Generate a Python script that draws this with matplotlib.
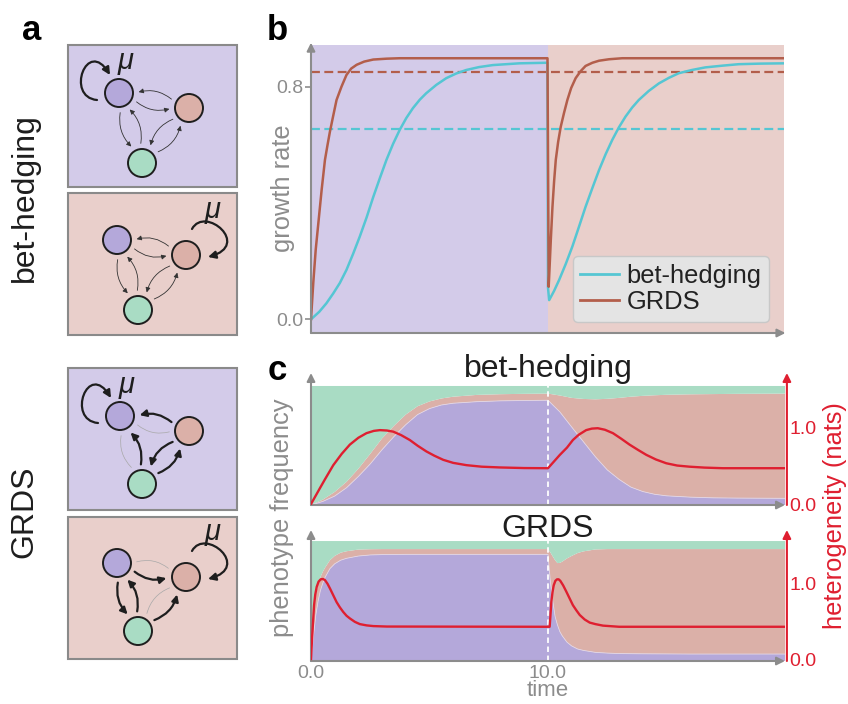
import matplotlib
matplotlib.use('Agg')
import matplotlib.pyplot as plt
import numpy as np
from matplotlib.patches import Rectangle, Circle, FancyArrowPatch
from matplotlib.path import Path

plt.rcParams['font.family'] = ['Liberation Sans', 'DejaVu Sans']

W, H = 848, 704

# colours
PURPLE_BG = '#d3cbe9'
PINK_BG = '#e9cfcb'
PURPLE = '#b4a8da'
PINK = '#dbb0a8'
GREEN = '#a9dcc4'
CYAN = '#55c6d3'
BROWN = '#b35e4b'
RED = '#df1f30'
GRAY = '#8c8c8c'
DARK = '#1e1e1e'

# ---- panel b: growth rate ----
bh_t = [0, 0.35, 0.65, 0.94, 1.22, 1.5, 1.78, 2.06, 2.35, 2.63, 2.91, 3.19, 3.47, 3.75, 4.03, 4.31,
        4.6, 4.87, 5.3, 5.72, 6.14, 6.56, 7.1, 7.69, 8.81, 10.0,
        10.02, 10.07, 10.28, 10.49, 10.77, 11.05, 11.33, 11.61, 11.9, 12.18, 12.46, 12.74, 13.02, 13.3,
        13.58, 13.86, 14.28, 14.71, 15.13, 15.55, 16.1, 16.67, 17.4, 18.08, 19.0, 20.0]
bh_growth = [0.0, 0.026, 0.055, 0.089, 0.125, 0.17, 0.225, 0.284, 0.35, 0.42, 0.485, 0.548, 0.603, 0.651,
             0.692, 0.726, 0.755, 0.777, 0.806, 0.829, 0.845, 0.857, 0.867, 0.874, 0.880, 0.882,
             0.11, 0.066, 0.098, 0.135, 0.19, 0.25, 0.318, 0.387, 0.452, 0.513, 0.568, 0.617, 0.66, 0.697,
             0.728, 0.754, 0.785, 0.811, 0.83, 0.846, 0.857, 0.866, 0.872, 0.877, 0.879, 0.880]
grds_t = [0, 0.1, 0.2, 0.31, 0.45, 0.59, 0.7, 0.8, 0.94, 1.08, 1.29, 1.5, 1.7, 1.93, 2.25, 2.63, 3.2, 3.75, 10.0,
          10.05, 10.1, 10.14, 10.21, 10.28, 10.35, 10.45, 10.56, 10.7, 10.84, 11.0, 11.19, 11.4, 11.61,
          11.9, 12.18, 12.6, 13.16, 20.0]
grds_growth = [0.0, 0.13, 0.24, 0.33, 0.445, 0.548, 0.60, 0.645, 0.70, 0.754, 0.80, 0.840, 0.862, 0.875,
               0.886, 0.893, 0.896, 0.8975, 0.8975,
               0.112, 0.2, 0.273, 0.387, 0.475, 0.548, 0.61, 0.662, 0.71, 0.754, 0.795, 0.829, 0.853, 0.871,
               0.882, 0.889, 0.894, 0.8975, 0.8975]
bh_mean = 0.655
grds_mean = 0.849

# ---- panel c: phenotype frequencies and heterogeneity ----
bh_time = [0, 0.5, 1, 1.5, 2, 2.5, 3, 3.5, 4, 4.5, 5, 5.5, 6, 7, 8, 9, 10,
           10.5, 11, 11.5, 12, 12.5, 13, 13.5, 14, 14.5, 15, 16, 17, 18, 19, 20]
bh_purple = [0, 0.03, 0.075, 0.145, 0.24, 0.345, 0.465, 0.575, 0.675, 0.76, 0.81, 0.84, 0.855, 0.868, 0.875, 0.878, 0.88,
             0.782, 0.655, 0.53, 0.405, 0.295, 0.215, 0.15, 0.113, 0.09, 0.077, 0.066, 0.06, 0.058, 0.057, 0.056]
bh_pink = [0, 0.015, 0.035, 0.05, 0.065, 0.085, 0.095, 0.09, 0.085, 0.07, 0.06, 0.055, 0.055, 0.057, 0.056, 0.056, 0.056,
           0.138, 0.245, 0.361, 0.483, 0.597, 0.685, 0.76, 0.804, 0.832, 0.849, 0.864, 0.872, 0.876, 0.878, 0.88]
bh_green = [1, 0.955, 0.89, 0.805, 0.695, 0.57, 0.44, 0.335, 0.24, 0.17, 0.13, 0.105, 0.09, 0.075, 0.069, 0.066, 0.064,
            0.08, 0.1, 0.109, 0.112, 0.108, 0.1, 0.09, 0.083, 0.078, 0.074, 0.07, 0.068, 0.066, 0.065, 0.064]
het_bh_t = [0, 0.2, 0.38, 0.6, 0.94, 1.3, 1.64, 2.0, 2.34, 2.65, 2.91, 3.2, 3.47, 3.8, 4.17, 4.5, 4.87,
            5.2, 5.58, 6.0, 6.56, 7.2, 7.97, 9.0, 10.0,
            10.5, 10.8, 11.05, 11.3, 11.61, 11.85, 12.1, 12.4, 12.74, 13.1, 13.44, 13.8, 14.15, 14.55,
            14.99, 15.45, 15.97, 16.6, 17.38, 20.0]
het_bh = [0, 0.11, 0.21, 0.33, 0.51, 0.66, 0.78, 0.87, 0.93, 0.96, 0.97, 0.965, 0.95, 0.905, 0.84, 0.765, 0.69,
          0.635, 0.58, 0.54, 0.51, 0.49, 0.48, 0.472, 0.47,
          0.645, 0.74, 0.84, 0.91, 0.97, 0.99, 0.995, 0.975, 0.93, 0.855, 0.78, 0.71, 0.645, 0.585,
          0.535, 0.505, 0.49, 0.478, 0.47, 0.47]

gr_time = [0, 0.1, 0.2, 0.3, 0.4, 0.5, 0.6, 0.8, 1.0, 1.25, 1.5, 2, 2.5, 3, 4, 6, 10,
           10.1, 10.2, 10.3, 10.4, 10.5, 10.6, 10.8, 11, 11.25, 11.5, 12, 12.5, 13, 14, 16, 20]
gr_purple = [0, 0.2, 0.38, 0.5, 0.59, 0.65, 0.70, 0.77, 0.81, 0.84, 0.856, 0.875, 0.884, 0.887, 0.889, 0.889, 0.889,
             0.66, 0.5, 0.37, 0.3, 0.245, 0.21, 0.157, 0.125, 0.1, 0.088, 0.072, 0.066, 0.062, 0.06, 0.058, 0.058]
gr_pink = [0, 0.13, 0.17, 0.14, 0.11, 0.095, 0.08, 0.07, 0.066, 0.063, 0.059, 0.054, 0.048, 0.046, 0.044, 0.044, 0.044,
           0.245, 0.372, 0.47, 0.516, 0.573, 0.618, 0.698, 0.751, 0.8, 0.826, 0.858, 0.867, 0.871, 0.873, 0.875, 0.875]
gr_green = [1, 0.67, 0.45, 0.36, 0.30, 0.255, 0.22, 0.16, 0.124, 0.097, 0.085, 0.071, 0.068, 0.067, 0.067, 0.067, 0.067,
            0.095, 0.128, 0.16, 0.184, 0.182, 0.172, 0.145, 0.124, 0.1, 0.086, 0.07, 0.067, 0.067, 0.067, 0.067, 0.067]
het_gr_t = [0, 0.05, 0.13, 0.18, 0.24, 0.32, 0.41, 0.5, 0.59, 0.7, 0.80, 0.94, 1.08, 1.22, 1.36, 1.5, 1.64,
            1.85, 2.06, 2.35, 2.63, 3.2, 10.0,
            10.07, 10.1, 10.14, 10.19, 10.24, 10.31, 10.38, 10.45, 10.52, 10.64, 10.77, 10.91, 11.05, 11.2,
            11.34, 11.55, 11.76, 12.0, 12.32, 13.0, 20.0]
het_gr = [0, 0.3, 0.71, 0.85, 0.95, 1.02, 1.05, 1.055, 1.04, 0.99, 0.93, 0.84, 0.75, 0.68, 0.62, 0.57, 0.535,
          0.49, 0.46, 0.443, 0.434, 0.428, 0.425,
          0.425, 0.56, 0.75, 0.88, 0.97, 1.03, 1.05, 1.05, 1.03, 0.97, 0.89, 0.8, 0.71, 0.64,
          0.58, 0.52, 0.48, 0.46, 0.44, 0.425, 0.425]

switch_time = 10.0


def px_axes(fig, x0, y0, x1, y1):
    # rectangle given in pixel coords (y from top)
    return fig.add_axes([x0 / W, 1 - y1 / H, (x1 - x0) / W, (y1 - y0) / H])


def axis_arrow(ax, start, end, color):
    ax.annotate('', xy=end, xytext=start, xycoords='axes fraction', textcoords='axes fraction',
                arrowprops=dict(arrowstyle='-|>', color=color, lw=1.5, shrinkA=0, shrinkB=0,
                                mutation_scale=12), annotation_clip=False)


fig = plt.figure(figsize=(W / 100, H / 100), dpi=100)

# ================= panel a (diagrams) =================
axa = fig.add_axes([0, 0, 260 / W, 1])
axa.set_xlim(0, 260)
axa.set_ylim(H, 0)
axa.axis('off')

boxes = [(45, PURPLE_BG, 'bh', 'P', [(119, 93), (189, 108), (142, 163)], (126, 61)),
         (193, PINK_BG, 'bh', 'K', [(117, 240), (186, 255), (138, 310)], (213, 210)),
         (368, PURPLE_BG, 'grds_p', 'P', [(120, 416), (189, 431), (142, 484)], (127, 385)),
         (517, PINK_BG, 'grds_k', 'K', [(117, 563), (186, 577), (138, 631)], (213, 532))]

edge_styles = {
    'bh': {('K', 'P'): 'thin', ('P', 'K'): 'thin', ('P', 'G'): 'thin',
           ('G', 'P'): 'thin', ('K', 'G'): 'thin', ('G', 'K'): 'thin'},
    'grds_p': {('K', 'P'): 'bold', ('P', 'K'): 'faint', ('P', 'G'): 'faint',
               ('G', 'P'): 'bold', ('K', 'G'): 'bold', ('G', 'K'): 'bold'},
    'grds_k': {('K', 'P'): 'faint', ('P', 'K'): 'bold', ('P', 'G'): 'bold',
               ('G', 'P'): 'bold', ('K', 'G'): 'faint', ('G', 'K'): 'bold'},
}
R = 14


def link(a, b, kind):
    a = np.array(a, float)
    b = np.array(b, float)
    u = (b - a) / np.hypot(*(b - a))
    n = np.array([-u[1], u[0]])
    p0 = a + u * 19 + n * 5
    p1 = b - u * 19 + n * 5
    if kind == 'thin':
        kw = dict(arrowstyle='-|>', mutation_scale=7, lw=0.6, color='#333333')
    elif kind == 'bold':
        kw = dict(arrowstyle='-|>', mutation_scale=10, lw=1.6, color=DARK)
    else:
        kw = dict(arrowstyle='-', lw=0.5, color='#a8a8a8')
    axa.add_patch(FancyArrowPatch(tuple(p0), tuple(p1), connectionstyle='arc3,rad=0.25',
                                  shrinkA=0, shrinkB=0, zorder=2, **kw))


def self_loop(c, side):
    c = np.array(c, float)
    if side == 'P':
        offs = [(-22, 7), (-54, 4), (-32, -56), (-9, -18)]
    else:
        offs = [(6, -26), (19, -50), (66, -10), (22, 2)]
    verts = [tuple(c + np.array(o)) for o in offs]
    path = Path(verts, [Path.MOVETO, Path.CURVE4, Path.CURVE4, Path.CURVE4])
    axa.add_patch(FancyArrowPatch(path=path, arrowstyle='-|>', mutation_scale=11,
                                  lw=1.6, color=DARK, zorder=2))


for top, bg, kind, fav, nodes, mu_pos in boxes:
    axa.add_patch(Rectangle((68, top), 169, 142, facecolor=bg, edgecolor='#8a8a8a', lw=1.5, zorder=1))
    pos = dict(zip(['P', 'K', 'G'], nodes))
    for (s, d), st in edge_styles[kind].items():
        link(pos[s], pos[d], st)
    for key, col in zip(['P', 'K', 'G'], [PURPLE, PINK, GREEN]):
        axa.add_patch(Circle(pos[key], R, facecolor=col, edgecolor=DARK, lw=1.4, zorder=3))
    self_loop(pos[fav], fav)
    axa.text(mu_pos[0], mu_pos[1], 'μ', fontsize=21, fontstyle='italic', ha='center', va='center',
             color=DARK, zorder=4)

fig.text(22 / W, 1 - 40 / H, 'a', fontsize=25, fontweight='bold', va='baseline', ha='left')
fig.text(25 / W, 1 - 198 / H, 'bet-hedging', fontsize=23, rotation=90, ha='center', va='center', color=DARK)
fig.text(24 / W, 1 - 512 / H, 'GRDS', fontsize=23, rotation=90, ha='center', va='center', color=DARK)

# ================= panel b =================
axb = px_axes(fig, 311, 45, 784, 333)
axb.set_xlim(0, 20)
axb.set_ylim(-0.047, 0.943)
axb.axvspan(0, switch_time, color=PURPLE_BG, lw=0, zorder=0)
axb.axvspan(switch_time, 20, color=PINK_BG, lw=0, zorder=0)
axb.axhline(grds_mean, color=BROWN, lw=1.6, ls=(0, (4, 2)), zorder=2)
axb.axhline(bh_mean, color=CYAN, lw=1.6, ls=(0, (4, 2)), zorder=2)
axb.plot(bh_t, bh_growth, color=CYAN, lw=1.8, label='bet-hedging', zorder=3)
axb.plot(grds_t, grds_growth, color=BROWN, lw=1.8, label='GRDS', zorder=3)
for s in axb.spines.values():
    s.set_visible(False)
axb.set_xticks([])
axb.set_yticks([0.0, 0.8])
axb.set_yticklabels(['0.0', '0.8'])
axb.tick_params(axis='y', length=4, width=1.2, color=GRAY, labelcolor=GRAY, labelsize=14, pad=1.5)
axis_arrow(axb, (0, 0), (0, 1.008), GRAY)
axis_arrow(axb, (0, 0), (1.003, 0), GRAY)
leg = axb.legend(loc='lower right', bbox_to_anchor=(769 / W, 1 - 322 / H), bbox_transform=fig.transFigure,
                 borderaxespad=0, fontsize=18.4, handlelength=1.5, handletextpad=0.3, labelspacing=0.1,
                 borderpad=0.3, fancybox=True, framealpha=1)
leg.get_frame().set_facecolor('#e4e4e4')
leg.get_frame().set_edgecolor('#c8c8c8')
for txt in leg.get_texts():
    txt.set_color('#222222')
for ln in leg.get_lines():
    ln.set_linewidth(2)

fig.text(267 / W, 1 - 40 / H, 'b', fontsize=25, fontweight='bold', va='baseline', ha='left')
fig.text(283 / W, 1 - 188 / H, 'growth rate', fontsize=18.4, rotation=90, ha='center', va='center', color=GRAY)

# ================= panel c =================
panels = [((373, 505), 1.109, (-0.013, 1.72), bh_time, (bh_purple, bh_pink, bh_green),
           het_bh_t, het_bh, 'bet-hedging', 0.97),
          ((530, 661), 1.092, (-0.026, 1.70), gr_time, (gr_purple, gr_pink, gr_green),
           het_gr_t, het_gr, 'GRDS', 0.947)]

for i, (yr, ytop, rlim, t, freqs, ht, hv, title, ty) in enumerate(panels):
    ax = px_axes(fig, 311, yr[0], 785, yr[1])
    ax.set_xlim(0, 20)
    ax.set_ylim(0, ytop)
    ax.stackplot(t, *freqs, colors=[PURPLE, PINK, GREEN], lw=0, zorder=1)
    ax.plot(t, freqs[0], color='#e2d6e6', lw=0.6, zorder=1.5)
    ax.plot([switch_time, switch_time], [0, 1], color='white', lw=1.3, ls=(0, (3, 2)), zorder=2)
    for s in ax.spines.values():
        s.set_visible(False)
    ax.set_yticks([])
    if i == 1:
        ax.set_xticks([0, 10])
        ax.set_xticklabels(['0.0', '10.0'])
        ax.tick_params(axis='x', length=0, labelcolor=GRAY, labelsize=14, pad=3)
    else:
        ax.set_xticks([])
    ax.text(0.5, ty, title, transform=ax.transAxes, ha='center', va='baseline', fontsize=23, color=DARK)

    axr = ax.twinx()
    axr.set_ylim(*rlim)
    axr.plot(ht, hv, color=RED, lw=1.7, zorder=3)
    for s in axr.spines.values():
        s.set_visible(False)
    axr.set_yticks([0.0, 1.0])
    axr.set_yticklabels(['0.0', '1.0'])
    axr.tick_params(axis='y', length=0, labelcolor=RED, labelsize=14, pad=3)
    axis_arrow(ax, (0, 0), (0, 1), GRAY)
    axis_arrow(ax, (0, 0), (1.0, 0), GRAY)
    axis_arrow(axr, (1.004, 0), (1.004, 1), RED)

fig.text(268 / W, 1 - 380 / H, 'c', fontsize=25, fontweight='bold', va='baseline', ha='left')
fig.text(282 / W, 1 - 518 / H, 'phenotype frequency', fontsize=18.4, rotation=90, ha='center', va='center',
         color=GRAY)
fig.text(835 / W, 1 - 516 / H, 'heterogeneity (nats)', fontsize=18.4, rotation=90, ha='center', va='center',
         color=RED)
fig.text(548 / W, 1 - 691 / H, 'time', fontsize=16, ha='center', va='center', color=GRAY)

fig.savefig('out.png', dpi=100)
